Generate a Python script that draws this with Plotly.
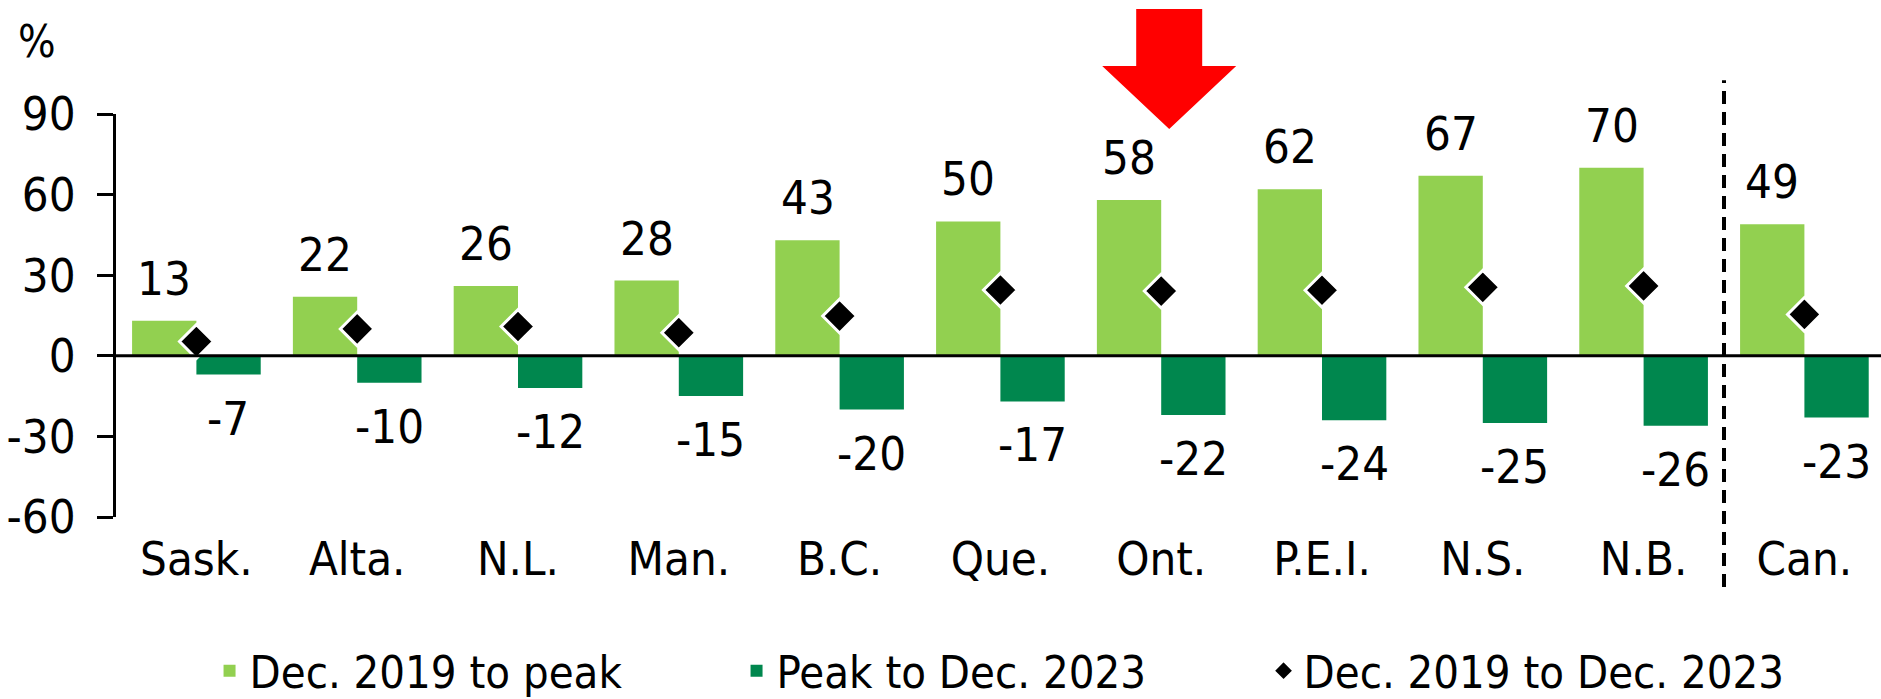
import plotly.graph_objects as go

# ---- data ----
categories = ["Sask.", "Alta.", "N.L.", "Man.", "B.C.", "Que.", "Ont.", "P.E.I.", "N.S.", "N.B.", "Can."]
to_peak = [13, 22, 26, 28, 43, 50, 58, 62, 67, 70, 49]
peak_to_dec23 = [-7, -10, -12, -15, -20, -17, -22, -24, -25, -26, -23]
dec19_to_dec23 = [5.3, 10.0, 10.9, 8.6, 14.8, 24.5, 24.1, 24.4, 25.5, 26.0, 15.4]
series_names = ["Dec. 2019 to peak", "Peak to Dec. 2023", "Dec. 2019 to Dec. 2023"]
y_tickvals = [-60, -30, 0, 30, 60, 90]
y_ticktext = ["-60", "-30", "0", "30", "60", "90"]
highlight = "Ont."
separator_after = "N.B."

# ---- style ----
W, H = 1881, 699
L, R, T, B = 116, 0, 114, 182
CAT_PX = 160.8
FONT = "DejaVu Sans Condensed, Open Sans, sans-serif"
FS = 47
LFS = 45
LIGHT = "#92D050"
DARK = "#00874E"

fig = go.Figure()
fig.add_trace(go.Bar(x=categories, y=to_peak, name=series_names[0],
                     marker=dict(color=LIGHT, line=dict(width=0))))
fig.add_trace(go.Bar(x=categories, y=peak_to_dec23, name=series_names[1],
                     marker=dict(color=DARK, line=dict(width=0))))
fig.add_trace(go.Scatter(x=categories, y=dec19_to_dec23, name=series_names[2], mode="markers",
                         marker=dict(symbol="diamond", size=26, color="black",
                                     line=dict(color="white", width=3))))

annotations = []
for c, v in zip(categories, to_peak):
    annotations.append(dict(x=c, y=v, xref="x", yref="y", text=str(v), showarrow=False,
                            xshift=-32, yanchor="bottom", yshift=13,
                            font=dict(family=FONT, size=FS, color="black")))
for c, v in zip(categories, peak_to_dec23):
    annotations.append(dict(x=c, y=v, xref="x", yref="y", text=str(v), showarrow=False,
                            xshift=32, yanchor="top", yshift=-14,
                            font=dict(family=FONT, size=FS, color="black")))
annotations.append(dict(x=-0.045, y=1.179, xref="paper", yref="paper", text="%", showarrow=False,
                        xanchor="center", yanchor="middle",
                        font=dict(family=FONT, size=44, color="black")))

sep_x = categories.index(separator_after) + 0.5
shapes = [
    dict(type="line", xref="paper", yref="y", x0=0, x1=1, y0=0, y1=0,
         line=dict(color="black", width=3), layer="above"),
    dict(type="line", xref="x", yref="paper", x0=sep_x, x1=sep_x, y0=-0.174, y1=1.084,
         line=dict(color="black", width=4, dash="13px,8px"), layer="above"),
    dict(type="path", xref="x", yref="paper", xsizemode="pixel", ysizemode="pixel",
         xanchor=highlight, yanchor=1,
         path="M -25,105 L 41,105 L 41,48 L 75,48 L 8,-15 L -59,48 L -25,48 Z",
         fillcolor="#FF0000", line=dict(width=0), layer="above"),
]

fig.update_layout(
    template="none",
    width=W, height=H,
    margin=dict(l=L, r=R, t=T, b=B, pad=0, autoexpand=False),
    paper_bgcolor="white", plot_bgcolor="white",
    font=dict(family=FONT, size=FS, color="black"),
    barmode="group", bargap=0.2, bargroupgap=0,
    showlegend=True,
    legend=dict(orientation="h", x=0.053, xanchor="left", y=-0.382, yanchor="middle",
                font=dict(family=FONT, size=LFS, color="black"),
                entrywidth=482, entrywidthmode="pixels", traceorder="normal",
                bgcolor="rgba(0,0,0,0)", borderwidth=0),
    annotations=annotations,
    shapes=shapes,
    xaxis=dict(type="category", range=[-0.5, -0.5 + (W - L - R) / CAT_PX],
               showline=False, showgrid=False, zeroline=False, ticks="", automargin=False,
               tickfont=dict(family=FONT, size=FS, color="black"), ticklabelstandoff=10),
    yaxis=dict(range=[-60, 90], tickvals=y_tickvals, ticktext=y_ticktext, automargin=False,
               showline=True, linecolor="black", linewidth=3,
               ticks="outside", ticklen=16, tickwidth=3, tickcolor="black",
               showgrid=False, zeroline=False,
               tickfont=dict(family=FONT, size=FS, color="black"), ticklabelstandoff=12),
)

fig.write_html("out.html", config={"displayModeBar": False},
               post_script="document.body.style.margin='0';")
